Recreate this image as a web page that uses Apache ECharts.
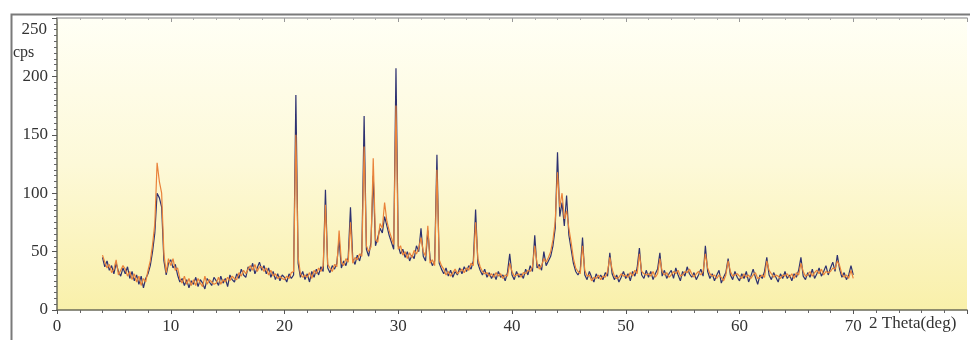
<!DOCTYPE html>
<html>
<head>
<meta charset="utf-8">
<script src="https://cdn.jsdelivr.net/npm/echarts/dist/echarts.min.js"></script>
<style>
  html, body { margin: 0; padding: 0; background: #fff; }
  #chart { width: 970px; height: 340px; }
</style>
</head>
<body>
<div id="chart"></div>
<script>
// 2θ 从 4.0 到 70.0，每 0.2° 一个点
const startAngle = 4.0
const stepAngle = 0.2
const xTicks = [0, 10, 20, 30, 40, 50, 60, 70]
// 250 单独画在刻度下方
const yTicks = [0, 50, 100, 150, 200]

// 深蓝色曲线
const blueCps = [
  45, 37, 42, 34, 38, 31, 40, 33, 29, 36,
  31, 37, 27, 33, 25, 30, 22, 29, 19, 27,
  31, 38, 50, 66, 100, 96, 88, 42, 30, 40,
  43, 36, 39, 30, 24, 27, 21, 26, 19, 25,
  22, 28, 20, 26, 23, 18, 27, 24, 21, 28,
  25, 21, 29, 23, 27, 20, 30, 26, 24, 31,
  27, 35, 30, 28, 37, 33, 40, 31, 36, 41,
  34, 38, 31, 36, 28, 33, 26, 31, 25, 30,
  28, 24, 31, 27, 30, 184, 40, 28, 33, 26,
  31, 24, 33, 28, 35, 30, 37, 33, 103, 36,
  32, 38, 35, 40, 60, 36, 42, 38, 45, 88,
  44, 39, 47, 42, 50, 166, 52, 46, 58, 115,
  55, 62, 70, 66, 80, 72, 64, 58, 52, 207,
  55, 48, 52, 45, 50, 42, 47, 44, 55, 50,
  70, 46, 42, 68, 44, 38, 42, 133, 40, 35,
  31, 36, 29, 34, 28, 33, 30, 36, 31, 37,
  33, 38, 35, 42, 86, 40, 34, 30, 35, 28,
  32, 27, 31, 26, 33, 28, 30, 25, 32, 48,
  30, 26, 33, 28, 31, 27, 35, 30, 38, 33,
  64, 36, 39, 34, 50, 38, 42, 46, 55, 70,
  135, 80, 92, 72, 98, 64, 52, 40, 33, 30,
  34, 62, 30, 26, 33, 28, 24, 31, 27, 30,
  26, 32, 29, 49, 31, 26, 30, 24, 28, 33,
  27, 31, 25, 33, 29, 36, 53, 30, 27, 34,
  28, 33, 26, 31, 35, 49, 29, 34, 27, 31,
  34, 27, 36, 30, 25, 33, 29, 37, 31, 28,
  32, 26, 30, 35, 29, 55, 33, 27, 31, 25,
  30, 34, 23, 28, 32, 44, 30, 26, 33, 28,
  25, 31, 27, 33, 24, 29, 35, 28, 22, 30,
  27, 33, 45, 30, 26, 32, 28, 24, 31, 27,
  33, 27, 30, 25, 31, 28, 34, 45, 29, 26,
  32, 28, 35, 27, 31, 36, 29, 33, 38, 30,
  36, 41, 33, 47, 35, 28, 32, 26, 30, 38,
  30
]

// 橙色曲线
const orangeCps = [
  47, 41, 36, 39, 32, 35, 43, 30, 34, 38,
  35, 29, 33, 26, 31, 24, 29, 21, 27, 24,
  34, 42, 56, 74, 126, 110, 100, 48, 32, 44,
  38, 44, 34, 36, 27, 23, 29, 22, 27, 21,
  26, 21, 27, 23, 20, 29, 22, 26, 24, 22,
  23, 28, 22, 26, 24, 28, 25, 29, 27, 26,
  32, 29, 34, 31, 35, 38, 34, 39, 33, 37,
  37, 33, 36, 30, 34, 29, 31, 27, 29, 27,
  26, 29, 27, 32, 33, 150, 45, 31, 28, 30,
  28, 32, 27, 34, 31, 36, 33, 38, 90, 39,
  36, 33, 39, 37, 68, 41, 38, 44, 41, 75,
  40, 45, 43, 48, 46, 140, 55, 50, 54, 130,
  60, 58, 74, 70, 92, 76, 68, 62, 56, 175,
  52, 55, 47, 50, 44, 49, 45, 51, 48, 53,
  62, 50, 46, 72, 40, 43, 38, 120, 43, 38,
  35, 30, 33, 29, 32, 35, 31, 33, 35, 32,
  36, 34, 40, 38, 75, 44, 37, 33, 31, 32,
  29, 31, 28, 32, 29, 31, 27, 30, 29, 40,
  33, 29, 30, 31, 28, 32, 31, 34, 33, 37,
  55, 40, 35, 38, 44, 41, 45, 50, 60, 76,
  118, 88, 100, 78, 85, 70, 58, 44, 36, 33,
  31, 55, 34, 29, 30, 25, 28, 27, 30, 26,
  29, 28, 33, 45, 35, 29, 27, 28, 31, 29,
  30, 28, 32, 29, 34, 31, 48, 33, 31, 30,
  31, 29, 33, 28, 31, 44, 33, 30, 32, 28,
  30, 33, 31, 34, 29, 30, 33, 32, 35, 31,
  28, 31, 33, 30, 33, 48, 36, 31, 29, 30,
  27, 30, 28, 25, 30, 42, 33, 29, 30, 31,
  29, 27, 31, 28, 30, 27, 30, 32, 27, 28,
  30, 28, 42, 34, 31, 28, 30, 29, 27, 30,
  29, 31, 28, 31, 27, 32, 30, 40, 33, 29,
  30, 33, 29, 32, 34, 31, 35, 30, 33, 32,
  33, 36, 35, 42, 38, 31, 28, 30, 27, 34,
  27
]

const toPairs = (values) =>
  values.map((v, i) => [Math.round((startAngle + i * stepAngle) * 10) / 10, v])

const labelFont = {
  fontFamily: 'Liberation Serif',
  fontSize: 17,
  color: '#333'
}

const myChart = echarts.init(document.getElementById('chart'))
const option = {
  animation: false,
  backgroundColor: '#fff',
  grid: {
    left: 57,
    top: 18,
    right: -4,
    bottom: 30,
    show: true,
    borderWidth: 0,
    backgroundColor: {
      type: 'linear',
      x: 0, y: 0, x2: 0, y2: 1,
      colorStops: [
        { offset: 0, color: '#fffff5' },
        { offset: 0.5, color: '#fdf9d8' },
        { offset: 1, color: '#f9f0aa' }
      ]
    }
  },
  xAxis: [
    {
      type: 'value',
      min: 0,
      max: 80,
      interval: 10,
      axisLine: { show: true, lineStyle: { color: '#6b6b5a', width: 1.5 } },
      axisTick: { show: true, length: 4, lineStyle: { color: '#555' } },
      minorTick: { show: true, splitNumber: 5, length: 3, lineStyle: { color: '#666' } },
      splitLine: { show: false },
      axisLabel: {
        ...labelFont,
        margin: 8,
        formatter: (v) => (xTicks.includes(v) ? String(v) : '')
      }
    },
    {
      type: 'value',
      position: 'top',
      min: 0,
      max: 80,
      interval: 10,
      axisLine: { show: true, lineStyle: { color: '#aaa', width: 1.5 } },
      axisTick: { show: true, inside: true, length: 4, lineStyle: { color: '#999' } },
      minorTick: { show: true, splitNumber: 5, length: 2, lineStyle: { color: '#aaa' } },
      splitLine: { show: false },
      axisLabel: { show: false }
    }
  ],
  yAxis: {
    type: 'value',
    min: 0,
    max: 250,
    interval: 50,
    axisLine: { show: true, lineStyle: { color: '#6b6b5a', width: 1.5 } },
    axisTick: { show: true, length: 5, lineStyle: { color: '#555' } },
    minorTick: { show: true, splitNumber: 10, length: 3, lineStyle: { color: '#666' } },
    splitLine: { show: false },
    axisLabel: {
      ...labelFont,
      margin: 9,
      formatter: (v) => (yTicks.includes(v) ? String(v) : '')
    }
  },
  graphic: [
    {
      type: 'rect',
      left: 9,
      top: 12,
      shape: { width: 990, height: 360 },
      style: { fill: 'none', stroke: '#7a7a7a', lineWidth: 2 },
      silent: true
    },
    {
      type: 'text',
      right: 923,
      top: 21,
      style: { text: '250', font: '17px "Liberation Serif"', fill: '#333' }
    },
    {
      type: 'text',
      left: 13,
      top: 45,
      style: { text: 'cps', font: '16px "Liberation Serif"', fill: '#333' }
    },
    {
      type: 'text',
      left: 869,
      top: 315,
      style: { text: '2 Theta(deg)', font: '17px "Liberation Serif"', fill: '#333' }
    }
  ],
  series: [
    {
      type: 'line',
      data: toPairs(blueCps),
      showSymbol: false,
      lineStyle: { color: '#2d3170', width: 1.2 },
      z: 2
    },
    {
      type: 'line',
      data: toPairs(orangeCps),
      showSymbol: false,
      lineStyle: { color: '#e9823a', width: 1.2 },
      z: 3
    }
  ]
}
myChart && myChart.setOption(option)
</script>
</body>
</html>
